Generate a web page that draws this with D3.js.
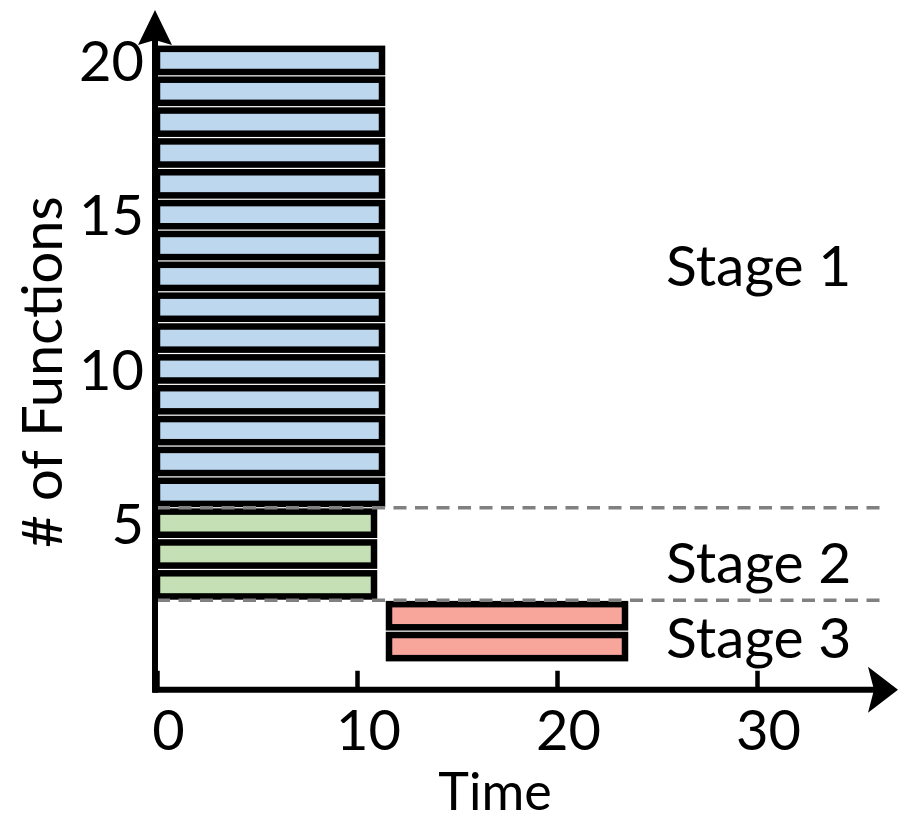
<!DOCTYPE html>
<html>
<head>
<meta charset="utf-8">
<script src="https://cdn.jsdelivr.net/npm/d3@7/dist/d3.min.js"></script>
<style>
  html, body { margin: 0; padding: 0; background: #fff; }
  svg text { font-family: Lato, "Open Sans", sans-serif; fill: #000; }
</style>
</head>
<body>
<svg id="chart" width="899" height="820"></svg>
<script>
// === Datos ===
const stages = ['Stage 1', 'Stage 2', 'Stage 3'];
const stageCount = [15, 3, 2];            // funciones por etapa (de arriba hacia abajo)
const stageStart = [0, 0, 11.6];          // inicio en tiempo
const stageEnd = [11.25, 10.85, 23.4];    // fin en tiempo
const stageFill = ['#bdd7ee', '#c5e0b4', '#f8a59b'];
const xTicks = [0, 10, 20, 30];
const yTicks = [5, 10, 15, 20];
const boundaries = [5.5, 2.5];            // líneas punteadas entre etapas
const boundaryEnd = 36.25;
const stageLabelY = [13.34, 3.71, 1.28];  // posición vertical de cada etiqueta

// === Escalas ===
const svg = d3.select('#chart');
const x = d3.scaleLinear().domain([0, 30]).range([157, 757]);
const totalFns = d3.sum(stageCount);
const y = d3.scaleLinear().domain([0.5, totalFns + 0.5]).range([662, 45]);

// filas: una barra por función, numeradas desde abajo
const rows = [];
let k = totalFns;
stages.forEach((s, i) => {
  for (let j = 0; j < stageCount[i]; j++) {
    rows.push({ n: k, stage: i });
    k--;
  }
});

// === Barras ===
const sw = 6.5;
svg.append('g').selectAll('rect').data(rows).join('rect')
  .attr('x', d => x(stageStart[d.stage]))
  .attr('width', d => x(stageEnd[d.stage]) - x(stageStart[d.stage]))
  .attr('y', d => y(d.n + 0.5) + 0.6 + sw / 2)
  .attr('height', d => y(d.n - 0.5) - y(d.n + 0.5) - 1.2 - sw)
  .attr('fill', d => stageFill[d.stage])
  .attr('stroke', '#000')
  .attr('stroke-width', sw);

// === Líneas punteadas (encima de las barras) ===
svg.append('g').selectAll('line').data(boundaries).join('line')
  .attr('x1', x(0)).attr('x2', x(boundaryEnd))
  .attr('y1', d => y(d)).attr('y2', d => y(d))
  .attr('stroke', '#808080').attr('stroke-width', 3.5)
  .attr('stroke-dasharray', '13 8.5');

// === Ejes ===
const xAxis = svg.append('g')
  .attr('transform', `translate(0,${y(-0.4)})`)
  .call(d3.axisBottom(x).tickValues(xTicks).tickSizeInner(-19).tickSizeOuter(0).tickPadding(20));
xAxis.select('.domain').remove();
xAxis.selectAll('.tick line').attr('stroke', '#000').attr('stroke-width', 4.5);
xAxis.selectAll('.tick text')
  .attr('x', 11).attr('font-size', 56).attr('font-family', null);

const yAxis = svg.append('g')
  .attr('transform', `translate(144,0)`)
  .call(d3.axisLeft(y).tickValues(yTicks).tickSize(0).tickPadding(0));
yAxis.select('.domain').remove();
yAxis.selectAll('.tick text')
  .attr('font-size', 56).attr('font-family', null).attr('dy', '0.36em');

// líneas de ejes con flecha
const x0 = 157, yBase = y(-0.4);
svg.append('line')
  .attr('x1', x0 - 4).attr('x2', 880).attr('y1', yBase).attr('y2', yBase)
  .attr('stroke', '#000').attr('stroke-width', 6);
svg.append('line')
  .attr('x1', x0 - 2).attr('x2', x0 - 2).attr('y1', yBase + 3).attr('y2', 30)
  .attr('stroke', '#000').attr('stroke-width', 6);
svg.append('path')
  .attr('d', `M898,${yBase} L868,${yBase - 23} L874,${yBase} L868,${yBase + 23} Z`)
  .attr('fill', '#000');
svg.append('path')
  .attr('d', `M${x0 - 2},10 L${x0 - 19},45 L${x0 - 2},40 L${x0 + 15},45 Z`)
  .attr('fill', '#000');

// === Textos ===
svg.append('g').selectAll('text').data(stages).join('text')
  .attr('x', 666)
  .attr('y', (d, i) => y(stageLabelY[i]))
  .attr('dy', '0.36em')
  .attr('font-size', 57)
  .text(d => d);

svg.append('text')
  .attr('x', 495).attr('y', 810)
  .attr('text-anchor', 'middle')
  .attr('font-size', 52)
  .text('Time');

svg.append('text')
  .attr('transform', 'translate(62,372) rotate(-90)')
  .attr('text-anchor', 'middle')
  .attr('font-size', 56)
  .text('# of Functions');
</script>
</body>
</html>
